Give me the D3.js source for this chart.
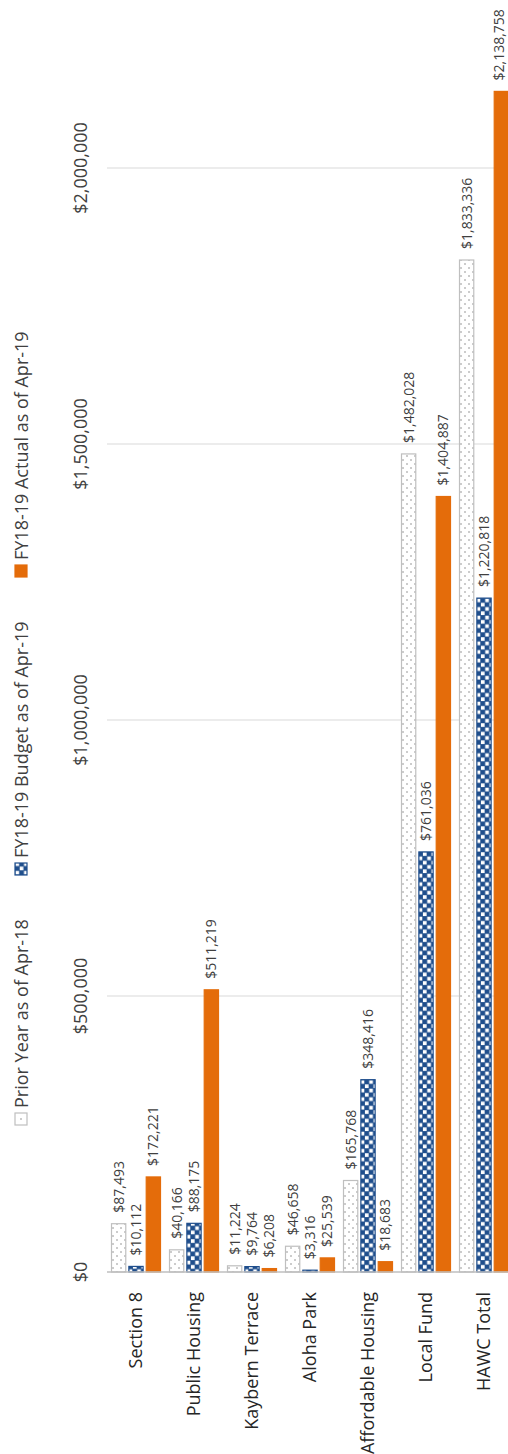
<!DOCTYPE html>
<html>
<head>
<meta charset="utf-8">
<script src="https://cdn.jsdelivr.net/npm/d3@7"></script>
<style>
  body { margin: 0; background: #fff; }
  text { font-family: 'Open Sans', sans-serif; }
</style>
</head>
<body>
<div class="chart"></div>
<script>
const categories = ['Section 8', 'Public Housing', 'Kaybern Terrace', 'Aloha Park', 'Affordable Housing', 'Local Fund', 'HAWC Total'];
const seriesNames = ['Prior Year as of Apr-18', 'FY18-19 Budget as of Apr-19', 'FY18-19 Actual as of Apr-19'];
const priorYear = [87493, 40166, 11224, 46658, 165768, 1482028, 1833336];
const budget = [10112, 88175, 9764, 3316, 348416, 761036, 1220818];
const actual = [172221, 511219, 6208, 25539, 18683, 1404887, 2138758];
const tickValues = [0, 500000, 1000000, 1500000, 2000000];

const W = 508, H = 1454;

const svg = d3.select('.chart')
    .append('svg')
    .attr('width', W)
    .attr('height', H);

// patterns
const defs = svg.append('defs');
const dots = defs.append('pattern')
    .attr('id', 'dots')
    .attr('patternUnits', 'userSpaceOnUse')
    .attr('width', 8).attr('height', 8);
dots.append('rect').attr('width', 8).attr('height', 8).attr('fill', '#fff');
dots.append('circle').attr('cx', 2).attr('cy', 2).attr('r', 0.8).attr('fill', '#8c8c8c');
dots.append('circle').attr('cx', 6).attr('cy', 6).attr('r', 0.8).attr('fill', '#8c8c8c');

const cell = 4.3;
const checks = defs.append('pattern')
    .attr('id', 'checks')
    .attr('patternUnits', 'userSpaceOnUse')
    .attr('width', cell * 2).attr('height', cell * 2);
checks.append('rect').attr('width', cell * 2).attr('height', cell * 2).attr('fill', '#1f4e8c');
checks.append('rect').attr('x', 0.4).attr('y', 0.4).attr('width', cell - 0.6).attr('height', cell - 0.6).attr('fill', '#fff');
checks.append('rect').attr('x', cell + 0.4).attr('y', cell + 0.4).attr('width', cell - 0.6).attr('height', cell - 0.6).attr('fill', '#fff');

const fills = ['url(#dots)', 'url(#checks)', '#e46c0a'];
const strokes = ['#bfbfbf', '#1f4e8c', '#e46c0a'];

// the whole chart is a horizontal bar chart turned a quarter left
const g = svg.append('g')
    .attr('transform', `translate(0,${H}) rotate(-90)`);

const xScale = d3.scaleLinear()
    .domain([0, 2000000])
    .range([182, 1286]);

const yScale = d3.scaleBand()
    .domain(categories)
    .range([107, 513])
    .paddingInner(0.138)
    .paddingOuter(0.069);

const sub = d3.scaleBand()
    .domain(d3.range(3))
    .range([0, yScale.bandwidth()])
    .paddingInner(0.12);

// gridlines
g.selectAll('.grid')
    .data(tickValues.slice(1))
    .enter()
    .append('line')
    .attr('class', 'grid')
    .attr('x1', d => xScale(d)).attr('x2', d => xScale(d))
    .attr('y1', 107).attr('y2', W + 5)
    .attr('stroke', '#d9d9d9')
    .attr('stroke-width', 1);

// tick labels
const fmt = d => '$' + d3.format(',')(d);
g.selectAll('.tick-label')
    .data(tickValues)
    .enter()
    .append('text')
    .attr('class', 'tick-label')
    .attr('x', d => xScale(d))
    .attr('y', 87)
    .attr('text-anchor', 'middle')
    .attr('font-size', 18)
    .attr('fill', '#404040')
    .text(fmt);

const rows = categories.map((c, i) => ({cat: c, vals: [priorYear[i], budget[i], actual[i]]}));

const groups = g.selectAll('.group')
    .data(rows)
    .enter()
    .append('g')
    .attr('class', 'group')
    .attr('transform', d => `translate(0,${yScale(d.cat)})`);

const cells = groups.selectAll('.bar')
    .data(d => d.vals.map((v, s) => ({v, s, cat: d.cat})))
    .enter();

cells.append('rect')
    .attr('class', 'bar')
    .attr('x', xScale(0))
    .attr('y', d => sub(d.s) + 0.5)
    .attr('width', d => xScale(d.v) - xScale(0))
    .attr('height', sub.bandwidth() - 1)
    .attr('fill', d => fills[d.s])
    .attr('stroke', d => strokes[d.s])
    .attr('stroke-width', 1.2);

// keep the last label inside the page edge
cells.append('text')
    .attr('x', d => xScale(d.v) + 11)
    .attr('y', d => Math.min(sub(d.s) + sub.bandwidth() / 2, W - 9 - yScale(d.cat)))
    .attr('dy', '0.35em')
    .attr('font-size', 14)
    .attr('fill', '#404040')
    .text(d => fmt(d.v));

// baseline
g.append('line')
    .attr('x1', xScale(0)).attr('x2', xScale(0))
    .attr('y1', 107).attr('y2', W + 5)
    .attr('stroke', '#bfbfbf')
    .attr('stroke-width', 1.5);

// category labels
g.selectAll('.cat')
    .data(categories)
    .enter()
    .append('text')
    .attr('class', 'cat')
    .attr('x', 162)
    .attr('y', d => yScale(d) + yScale.bandwidth() / 2)
    .attr('dy', '0.35em')
    .attr('text-anchor', 'end')
    .attr('font-size', 18)
    .attr('fill', '#262626')
    .text(d => d);

// legend
const legendX = [329, 579, 877];
const legend = g.selectAll('.legend')
    .data(seriesNames)
    .enter()
    .append('g')
    .attr('class', 'legend')
    .attr('transform', (d, i) => `translate(${legendX[i]},15)`);

legend.append('rect')
    .attr('width', 12).attr('height', 12)
    .attr('fill', (d, i) => i === 0 ? '#fff' : fills[i])
    .attr('stroke', (d, i) => strokes[i])
    .attr('stroke-width', 1.2);

legend.filter((d, i) => i === 0)
    .append('circle')
    .attr('cx', 6).attr('cy', 6).attr('r', 0.8)
    .attr('fill', '#8c8c8c');

legend.append('text')
    .attr('x', 17)
    .attr('y', 13)
    .attr('font-size', 18)
    .attr('fill', '#404040')
    .text(d => d);
</script>
</body>
</html>
